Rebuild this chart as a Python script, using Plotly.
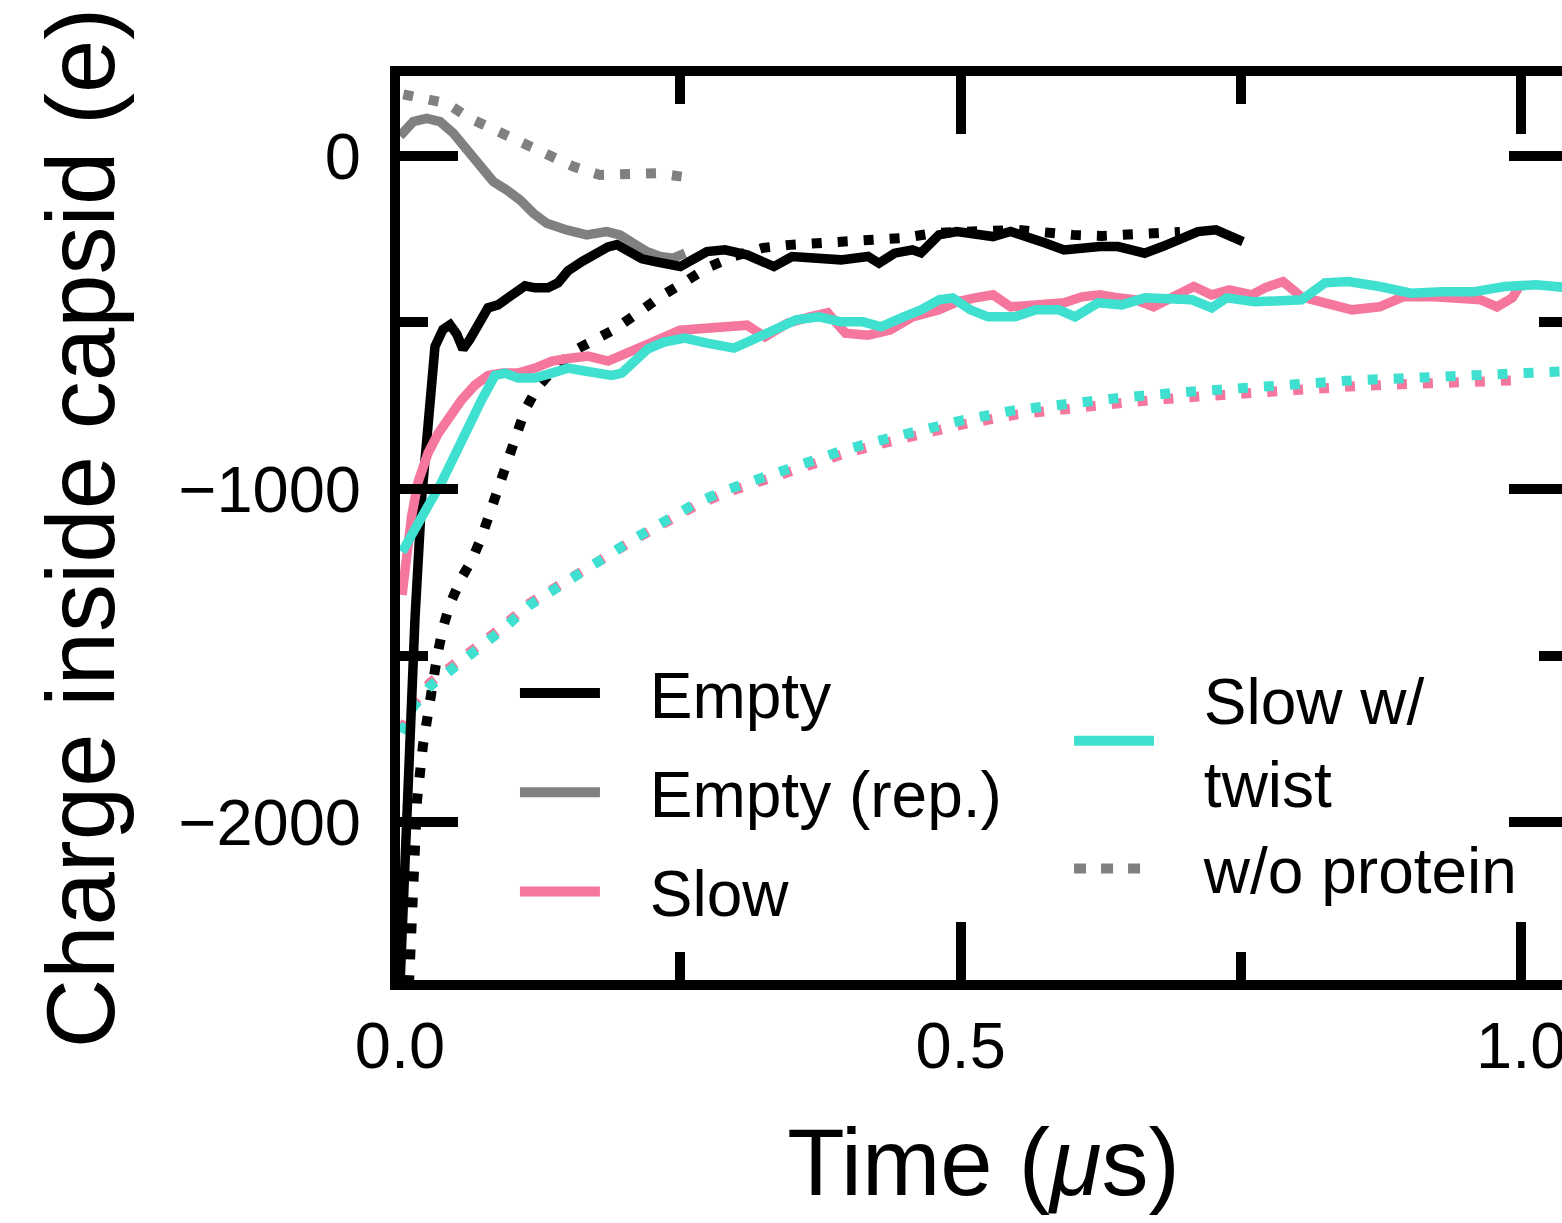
import plotly.graph_objects as go

# ---- Empty capsid (solid) ----
empty_t = [0.0, 0.0071, 0.0134, 0.0194, 0.025, 0.0312, 0.0383, 0.0446, 0.0506, 0.0562,
           0.0624, 0.0696, 0.0785, 0.0874, 0.0936, 0.1025, 0.1115, 0.1204, 0.132, 0.1409,
           0.1498, 0.1623, 0.1739, 0.1855, 0.1935, 0.2033, 0.2158, 0.2274, 0.250, 0.2738,
           0.2898, 0.3095, 0.3335, 0.3496, 0.3692, 0.3933, 0.4174, 0.4272, 0.4411, 0.4571,
           0.4646, 0.4807, 0.4967, 0.5164, 0.5289, 0.5446, 0.5606, 0.5761, 0.5922, 0.6082,
           0.6243, 0.6403, 0.6561, 0.6641, 0.68, 0.6956, 0.7117, 0.7277, 0.7393, 0.7518]
empty_q = [-2490, -1868, -1387, -1024, -763, -572, -521, -507, -535, -580,
           -550, -507, -456, -447, -432, -404, -390, -396, -396, -381,
           -345, -317, -294, -273, -266, -288, -309, -317, -332, -287,
           -282, -297, -332, -302, -307, -312, -302, -322, -292, -282,
           -291, -237, -227, -237, -242, -227, -242, -262, -282, -276,
           -272, -272, -282, -292, -272, -247, -227, -222, -237, -257]

# ---- Empty capsid, replica (solid) ----
rep_t = [0.0, 0.0045, 0.0119, 0.0238, 0.0357, 0.0476, 0.0595, 0.0713, 0.0832, 0.0951,
         0.107, 0.1189, 0.1308, 0.1486, 0.1665, 0.1843, 0.1962, 0.2081, 0.22, 0.2319,
         0.2437, 0.2542]
rep_q = [60, 78, 103, 113, 103, 68, 18, -32, -77, -102,
         -132, -172, -202, -222, -237, -227, -237, -262, -287, -302,
         -307, -292]

# ---- Slow (solid) ----
slow_t = [0.0018, 0.0045, 0.0104, 0.0161, 0.025, 0.0339, 0.0428, 0.055, 0.0669, 0.0785,
          0.091, 0.1052, 0.1204, 0.1356, 0.1498, 0.1677, 0.1855, 0.2033, 0.2212, 0.2497,
          0.27, 0.2898, 0.3095, 0.3255, 0.3456, 0.3656, 0.3814, 0.3973, 0.4174, 0.437,
          0.4571, 0.4807, 0.4967, 0.5128, 0.5289, 0.5446, 0.5606, 0.5761, 0.5922, 0.6082,
          0.6243, 0.6403, 0.6561, 0.6721, 0.6876, 0.7079, 0.7238, 0.7398, 0.7597, 0.7714,
          0.7875, 0.8041, 0.8249, 0.849, 0.8737, 0.8945, 0.9221, 0.9453, 0.964, 0.9783,
          0.9921, 0.9997]
slow_q = [-1318, -1240, -1081, -979, -892, -834, -790, -732, -688, -659,
          -652, -652, -637, -616, -608, -601, -616, -593, -565, -523,
          -517, -513, -508, -543, -502, -483, -471, -532, -538, -523,
          -483, -462, -438, -426, -417, -453, -447, -441, -441, -423,
          -417, -426, -432, -453, -426, -392, -417, -402, -417, -396,
          -377, -423, -441, -462, -453, -423, -423, -426, -432, -453,
          -426, -384]

# ---- Slow with twist (solid) ----
twist_t = [0.0018, 0.0134, 0.025, 0.0372, 0.0491, 0.0606, 0.0729, 0.0847, 0.0936, 0.1052,
           0.1204, 0.1353, 0.1498, 0.162, 0.1739, 0.1888, 0.1977, 0.2096, 0.2212, 0.2354,
           0.254, 0.2738, 0.2979, 0.3137, 0.3335, 0.3532, 0.3735, 0.3933, 0.4129, 0.429,
           0.4491, 0.4646, 0.4807, 0.4929, 0.5088, 0.5244, 0.5485, 0.5672, 0.5877, 0.602,
           0.6225, 0.6439, 0.6644, 0.6858, 0.7063, 0.7239, 0.7375, 0.7622, 0.783, 0.8041,
           0.8249, 0.8458, 0.8737, 0.9016, 0.9293, 0.9573, 0.9852, 1.0131, 1.0434]
twist_q = [-1189, -1125, -1051, -979, -892, -805, -732, -659, -652, -667,
           -667, -652, -637, -644, -652, -659, -652, -616, -579, -559,
           -547, -562, -577, -553, -523, -492, -483, -498, -498, -513,
           -483, -462, -432, -426, -462, -483, -483, -462, -462, -483,
           -441, -447, -426, -426, -432, -456, -426, -438, -432, -432,
           -381, -377, -392, -412, -408, -408, -392, -387, -396]

# ---- Runs without protein (dotted) ----
empty_np_t = [0.008, 0.0125, 0.0152, 0.0205, 0.0241, 0.0285, 0.033, 0.0383, 0.0446, 0.0553,
              0.0642, 0.0731, 0.0803, 0.0874, 0.0954, 0.1026, 0.1115, 0.1222, 0.1356, 0.1561,
              0.19, 0.2123, 0.2319, 0.2542, 0.2738, 0.2988, 0.3237, 0.3478, 0.3737, 0.3995,
              0.4236, 0.4495, 0.4771, 0.4994, 0.5262, 0.5503, 0.5743, 0.6002, 0.6261, 0.651,
              0.6769, 0.6956]
empty_np_q = [-2490, -2174, -1934, -1769, -1679, -1592, -1505, -1417, -1345, -1264,
              -1213, -1141, -1066, -994, -916, -835, -763, -697, -646, -583,
              -523, -471, -423, -378, -336, -300, -276, -267, -261, -258,
              -254, -246, -231, -225, -225, -222, -231, -237, -240, -237,
              -231, -228]

rep_np_t = [0.003, 0.0178, 0.0416, 0.0624, 0.0847, 0.1085, 0.1323, 0.1546, 0.1784, 0.2036,
            0.2289, 0.2512]
rep_np_q = [185, 173, 158, 113, 78, 43, 3, -32, -57, -57,
            -52, -62]

slow_np_t = [0.0018, 0.0116, 0.0268, 0.0473, 0.0678, 0.091, 0.1159, 0.1472, 0.1784, 0.2114,
             0.2381, 0.264, 0.2907, 0.3237, 0.3567, 0.396, 0.429, 0.462, 0.5021, 0.5485,
             0.5948, 0.6475, 0.7001, 0.7465, 0.7991, 0.8526, 0.8981, 0.9516, 1.0]
slow_np_q = [-1725, -1645, -1582, -1528, -1480, -1415, -1342, -1276, -1213, -1147,
             -1098, -1049, -1011, -973, -932, -894, -864, -835, -806, -777,
             -757, -740, -725, -714, -699, -691, -685, -679, -673]

twist_np_t = [0.0018, 0.0116, 0.0268, 0.0473, 0.0678, 0.091, 0.1159, 0.1472, 0.1784, 0.2114,
              0.2381, 0.264, 0.2907, 0.3237, 0.3567, 0.396, 0.429, 0.462, 0.5021, 0.5485,
              0.5948, 0.6475, 0.7001, 0.7465, 0.7991, 0.8526, 0.8981, 0.9516, 1.0042, 1.0434]
twist_np_q = [-1733, -1655, -1592, -1538, -1489, -1423, -1348, -1279, -1213, -1144,
              -1093, -1042, -1003, -964, -922, -883, -853, -823, -793, -763,
              -742, -724, -709, -697, -682, -673, -667, -661, -655, -646]

BLACK = "#000000"
GRAY = "#808080"
PINK = "#F6779D"
CYAN = "#40E0D0"

LW = 9.5
DOT_W = 10
DOT = "10px,16px"
LEG_LW = 10

fig = go.Figure()

# dotted runs first so solid lines sit on top
for t, q, c in [(rep_np_t, rep_np_q, GRAY), (empty_np_t, empty_np_q, BLACK),
                (slow_np_t, slow_np_q, PINK), (twist_np_t, twist_np_q, CYAN)]:
    fig.add_trace(go.Scatter(x=t, y=q, mode="lines", showlegend=False,
                             line=dict(color=c, width=DOT_W, dash=DOT)))

for t, q, c in [(rep_t, rep_q, GRAY), (empty_t, empty_q, BLACK),
                (slow_t, slow_q, PINK), (twist_t, twist_q, CYAN)]:
    fig.add_trace(go.Scatter(x=t, y=q, mode="lines", showlegend=False,
                             line=dict(color=c, width=LW)))

# legend keys; a small leading gap separates the key line from its label
GAP = "\u2002\u2009"
legend_entries = [
    ("Empty", BLACK, "solid", "legend"),
    ("Empty (rep.)", GRAY, "solid", "legend"),
    ("Slow", PINK, "solid", "legend"),
    ("Slow w/<br>" + GAP + "twist", CYAN, "solid", "legend2"),
    ("w/o protein", GRAY, "12px,15px", "legend2"),
]
for i, (name, c, d, lg) in enumerate(legend_entries):
    fig.add_trace(go.Scatter(x=[None], y=[None], mode="lines", name=GAP + name,
                             legend=lg, legendgroup=f"g{i}",
                             line=dict(color=c, width=LEG_LW, dash=d)))

FONT = "Liberation Sans, Arial, Helvetica, sans-serif"

axis_common = dict(
    showline=True, linecolor="black", linewidth=10, mirror="ticks",
    ticks="inside", ticklen=58, tickwidth=10, tickcolor="black",
    showgrid=False, zeroline=False,
    tickfont=dict(family=FONT, size=65, color="black"),
)

fig.update_layout(
    width=1600, height=1223,
    margin=dict(l=400, r=33, t=76, b=243, autoexpand=False),
    paper_bgcolor="white", plot_bgcolor="white",
    font=dict(family=FONT, color="black"),
    xaxis=dict(
        range=[0, 1.0408], dtick=0.5, tick0=0, tickformat=".1f",
        minor=dict(dtick=0.25, tick0=0, ticks="inside", ticklen=28, tickwidth=10,
                   tickcolor="black", showgrid=False),
        title=dict(text="Time (<i>μ</i>s)", font=dict(family=FONT, size=94), standoff=52),
        automargin=False,
        **axis_common,
    ),
    yaxis=dict(
        range=[-2474, 240], dtick=1000, tick0=0,
        ticklabelstandoff=16,
        minor=dict(dtick=500, tick0=0, ticks="inside", ticklen=28, tickwidth=10,
                   tickcolor="black", showgrid=False),
        title=dict(text="Charge inside capsid (e)", font=dict(family=FONT, size=96), standoff=36),
        automargin=False,
        **axis_common,
    ),
    legend=dict(
        x=0.0985, y=0.3706, xanchor="left", yanchor="top",
        bgcolor="rgba(0,0,0,0)", borderwidth=0,
        font=dict(family=FONT, size=64, color="black"),
        itemwidth=80, tracegroupgap=13, traceorder="grouped",
    ),
    legend2=dict(
        x=0.5733, y=0.3640, xanchor="left", yanchor="top",
        bgcolor="rgba(0,0,0,0)", borderwidth=0,
        font=dict(family=FONT, size=64, color="black"),
        itemwidth=80, tracegroupgap=0, traceorder="grouped",
    ),
)

fig.write_html(
    "out.html",
    post_script="document.body.style.margin='0';document.body.style.overflow='hidden';",
)
